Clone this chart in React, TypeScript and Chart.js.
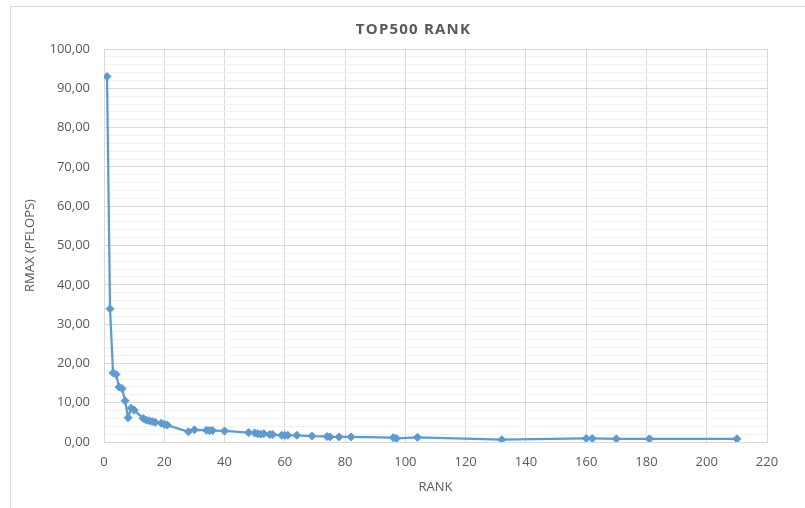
import React, { useEffect, useRef } from "react";
import { Chart, registerables } from "chart.js";

Chart.register(...registerables);

const chartTitle = "TOP500 RANK";
const xTitle = "RANK";
const yTitle = "RMAX (PFLOPS)";

const ranks = [1, 2, 3, 4, 5, 6, 7, 8, 9, 10, 13, 14, 15, 16, 17, 19, 20, 21, 28, 30, 34, 35, 36, 40, 48, 50, 51, 52, 53, 55, 56, 59, 60, 61, 64, 69, 74, 75, 78, 82, 96, 97, 104, 132, 160, 162, 170, 181, 210];
const rmax = [93.0, 33.9, 17.6, 17.2, 14.0, 13.6, 10.5, 6.2, 8.6, 8.1, 6.0, 5.6, 5.4, 5.2, 5.0, 4.8, 4.5, 4.3, 2.6, 3.1, 3.0, 2.9, 2.9, 2.8, 2.4, 2.3, 2.1, 2.0, 2.1, 1.9, 1.9, 1.7, 1.7, 1.7, 1.7, 1.5, 1.4, 1.3, 1.3, 1.3, 1.1, 0.9, 1.2, 0.6, 0.9, 0.9, 0.8, 0.8, 0.8];

const FONT = "'Open Sans', 'DejaVu Sans', sans-serif";
const TEXT = "#595959";

export default function App() {
  const ref = useRef<HTMLCanvasElement | null>(null);

  useEffect(() => {
    document.body.style.margin = "0";
    const canvas = ref.current;
    if (!canvas) return;

    const framePlugin = {
      id: "frame",
      beforeDraw(chart: any) {
        const ctx = chart.ctx;
        ctx.save();
        ctx.fillStyle = "#ffffff";
        ctx.fillRect(0, 0, chart.width, chart.height);
        ctx.strokeStyle = "#d9d9d9";
        ctx.lineWidth = 1;
        ctx.strokeRect(10.5, 6.5, chart.width, chart.height);
        ctx.restore();
      },
      afterDraw(chart: any) {
        const ctx = chart.ctx;
        const area = chart.chartArea;
        ctx.save();
        ctx.font = `bold 15px ${FONT}`;
        (ctx as any).letterSpacing = "1.2px";
        ctx.fillStyle = TEXT;
        ctx.textAlign = "center";
        ctx.textBaseline = "middle";
        ctx.fillText(chartTitle, (area.left + area.right) / 2 - 22, 30);
        ctx.restore();
      },
    };

    const chart = new Chart(canvas, {
      type: "line",
      data: {
        datasets: [
          {
            data: ranks.map((r, i) => ({ x: r, y: rmax[i] })),
            borderColor: "#5B9BD5",
            backgroundColor: "#5B9BD5",
            borderWidth: 2.25,
            pointStyle: "rectRot",
            pointRadius: 4,
            pointBorderWidth: 1,
            pointBackgroundColor: "#5B9BD5",
            pointBorderColor: "#5B9BD5",
            tension: 0,
            fill: false,
          },
        ],
      },
      options: {
        responsive: false,
        animation: false,
        layout: { padding: { top: 49, right: 38, bottom: 0, left: 0 } },
        plugins: {
          legend: { display: false },
          title: { display: false },
          tooltip: { enabled: false },
        },
        scales: {
          x: {
            type: "linear",
            min: 0,
            max: 220,
            afterFit(scale: any) {
              scale.height = 66;
            },
            ticks: {
              stepSize: 20,
              padding: 12,
              color: TEXT,
              font: { family: FONT, size: 13 },
            },
            grid: { color: "#d9d9d9", drawTicks: false },
            border: { color: "#d9d9d9" },
            title: {
              display: true,
              text: xTitle,
              color: TEXT,
              font: { family: FONT, size: 13 },
              padding: { top: 0, bottom: 13 },
            },
          },
          y: {
            type: "linear",
            min: 0,
            max: 100,
            afterFit(scale: any) {
              scale.width = 104;
            },
            ticks: {
              stepSize: 2,
              autoSkip: false,
              maxTicksLimit: 100,
              padding: 14,
              color: TEXT,
              font: { family: FONT, size: 13 },
              callback: (v: any) =>
                Math.round(v) % 10 === 0 ? Number(v).toFixed(2).replace(".", ",") : "",
            },
            grid: {
              drawTicks: false,
              color: (c: any) =>
                Math.round(c.tick.value) % 10 === 0 ? "#d9d9d9" : "#f2f2f2",
            },
            border: { color: "#d9d9d9" },
            title: {
              display: true,
              text: yTitle,
              color: TEXT,
              font: { family: FONT, size: 13 },
              padding: { top: 22, bottom: 0 },
            },
          },
        },
      },
      plugins: [framePlugin],
    } as any);

    return () => chart.destroy();
  }, []);

  return (
    <div style={{ width: 805, height: 508 }}>
      <canvas ref={ref} width={805} height={508} style={{ display: "block" }} />
    </div>
  );
}
